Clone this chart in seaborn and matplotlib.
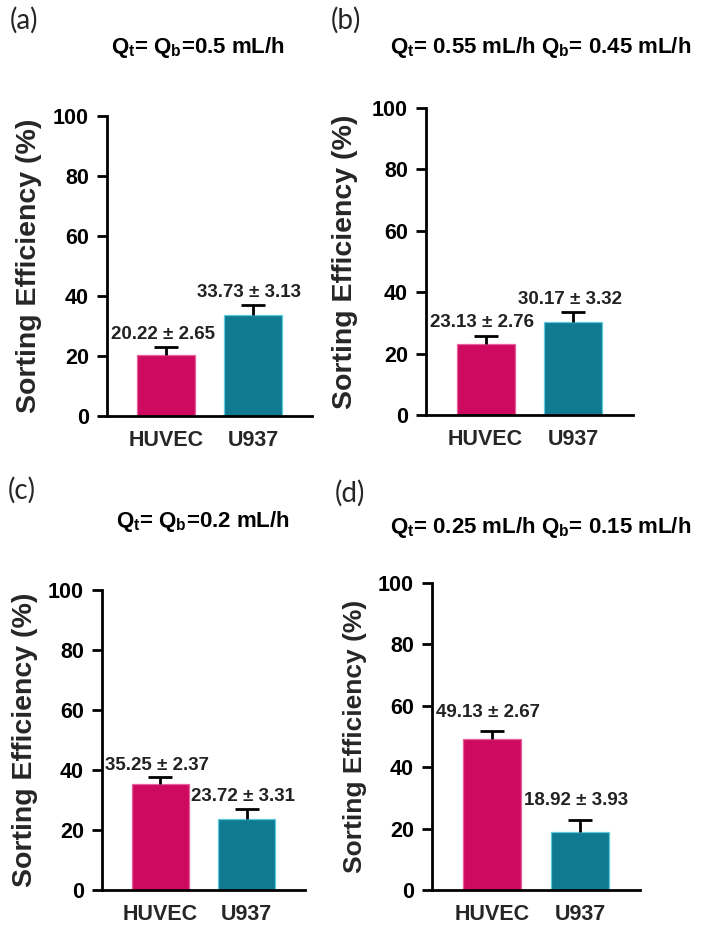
import matplotlib
matplotlib.use("Agg")
import matplotlib.pyplot as plt
import seaborn as sns
import pandas as pd

# ---- data ----
cells = ["HUVEC", "U937"]
panel_letters = ["(a)", "(b)", "(c)", "(d)"]
titles = [
    "$Q_t$= $Q_b$=0.5 mL/h",
    "$Q_t$= 0.55 mL/h $Q_b$= 0.45 mL/h",
    "$Q_t$= $Q_b$=0.2 mL/h",
    "$Q_t$= 0.25 mL/h $Q_b$= 0.15 mL/h",
]
means_a = [20.22, 33.73]
sds_a = [2.65, 3.13]
means_b = [23.13, 30.17]
sds_b = [2.76, 3.32]
means_c = [35.25, 23.72]
sds_c = [2.37, 3.31]
means_d = [49.13, 18.92]
sds_d = [2.67, 3.93]
yticks = [0, 20, 40, 60, 80, 100]
ylabel = "Sorting Efficiency (%)"

colors = {"HUVEC": "#CE0A60", "U937": "#0F7A91"}
edges = {"HUVEC": "#E8609A", "U937": "#5CCCDC"}

sns.set_style("white")
plt.rcParams["font.family"] = ["Liberation Sans", "DejaVu Sans"]
plt.rcParams["mathtext.fontset"] = "custom"
plt.rcParams["mathtext.rm"] = "Liberation Sans:bold"
plt.rcParams["mathtext.it"] = "Liberation Sans:bold"
plt.rcParams["mathtext.bf"] = "Liberation Sans:bold"
plt.rcParams["mathtext.default"] = "rm"

W, H = 710, 935
fig = plt.figure(figsize=(W / 100, H / 100), dpi=100)

# axes boxes in pixels: left, right, top(100), bottom(0)
boxes = [
    (107, 312, 116, 416),
    (426, 633, 108, 415),
    (102, 305, 590, 890),
    (432, 640, 583, 890),
]
title_pos = [(198, 47), (541, 47), (203, 521), (541, 527)]
letter_pos = [(10, 20), (331, 20), (8, 490), (335, 493)]
ylabel_sizes = [20.5, 20.5, 20.5, 19]
ylabel_off = [65, 68, 64, 65]
label_pads = [2.8, 2.8, 2.5, 4.7]

datasets = [(means_a, sds_a), (means_b, sds_b), (means_c, sds_c), (means_d, sds_d)]

for k, ((m, s), box) in enumerate(zip(datasets, boxes)):
    l, r, t, b = box
    ax = fig.add_axes([l / W, 1 - b / H, (r - l) / W, (b - t) / H])
    df = pd.DataFrame({"cell": cells, "eff": m})
    sns.barplot(data=df, x="cell", y="eff", hue="cell", palette=colors,
                saturation=1, width=0.66, errorbar=None, legend=False, ax=ax,
                linewidth=0.9, zorder=2)
    for patch, c in zip(ax.patches, cells):
        patch.set_edgecolor(edges[c])
    eb = ax.errorbar(range(len(cells)), m, yerr=[[0] * len(s), s], fmt="none",
                     ecolor="black", elinewidth=2.0, capsize=8.6, capthick=2.0,
                     zorder=3)
    caplines = eb.lines[1]
    if len(caplines) > 1:
        caplines[0].set_visible(False)
    for i, (mv, sv) in enumerate(zip(m, s)):
        ax.text(i - 0.04, mv + sv + label_pads[k], f"{mv:.2f} \u00b1 {sv:.2f}",
                ha="center", va="baseline", fontsize=13.5, fontweight="bold",
                color="#222222")
    ax.set_xlim(-0.68, 1.68)
    ax.set_ylim(0, 100)
    ax.set_yticks(yticks)
    ax.set_yticklabels([str(v) for v in yticks], fontsize=15.5, fontweight="bold")
    ax.set_xticks(range(len(cells)))
    ax.set_xticklabels(cells, fontsize=15.5, fontweight="bold")
    ax.tick_params(axis="y", length=7, width=2, pad=6, left=True, colors="black")
    ax.tick_params(axis="x", length=0, pad=10)
    ax.set_xlabel("")
    ax.set_ylabel(ylabel, fontsize=ylabel_sizes[k], fontweight="bold")
    ax.yaxis.set_label_coords(-ylabel_off[k] / (r - l), 0.5)
    for sp in ["top", "right"]:
        ax.spines[sp].set_visible(False)
    for sp in ["left", "bottom"]:
        ax.spines[sp].set_linewidth(2)
        ax.spines[sp].set_color("black")
    ax.set_facecolor("white")

for (tx, ty), txt in zip(title_pos, titles):
    fig.text(tx / W, 1 - ty / H, txt, ha="center", va="center",
             fontsize=16, fontweight="bold", color="black")
for (lx, ly), txt in zip(letter_pos, panel_letters):
    fig.text(lx / W, 1 - ly / H, txt, ha="left", va="center",
             fontsize=20, family=["Lato", "DejaVu Sans"])

fig.savefig("out.png", dpi=100, facecolor="white")
